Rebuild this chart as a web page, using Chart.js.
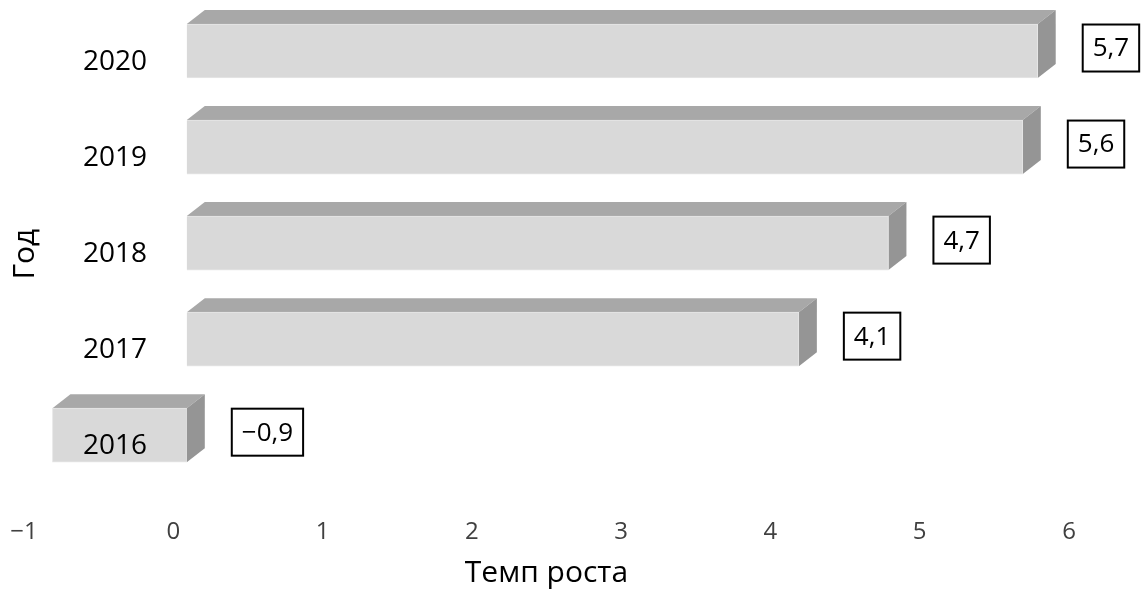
<!DOCTYPE html>
<html>
<head>
<meta charset="utf-8">
<script src="https://cdn.jsdelivr.net/npm/chart.js@4.4.0/dist/chart.umd.min.js"></script>
<style>
    html, body { margin: 0; padding: 0; background: #fff; }
</style>
</head>
<body>
<canvas id="grafico" width="1141" height="599"></canvas>
<script>
// dati
var anni = ['2020', '2019', '2018', '2017', '2016'];
var tempi = [5.7, 5.6, 4.7, 4.1, -0.9];
var minX = -1;
var maxX = 6;
var titoloX = 'Темп роста';
var titoloY = 'Год';

// effetto 3D
var PROF_X = 18;
var PROF_Y = 14;
var SPOSTA_X = 13.5;
var SPOSTA_Y = -11;

function formatta(v)
{
    return String(v).replace('.', ',').replace('-', '\u2212');
}

var barre3d = {
    id: 'barre3d',
    beforeDatasetsDraw: function(chart) {
        var ctx = chart.ctx;
        ctx.save();
        ctx.translate(SPOSTA_X, SPOSTA_Y);

        chart.getDatasetMeta(0).data.forEach(function(barra) {
            var p = barra.getProps(['x', 'y', 'base', 'height'], true);
            var sx = Math.min(p.x, p.base);
            var dx = Math.max(p.x, p.base);
            var su = p.y - p.height / 2;
            var giu = p.y + p.height / 2;

            // faccia sopra
            ctx.fillStyle = '#a8a8a8';
            ctx.beginPath();
            ctx.moveTo(sx, su);
            ctx.lineTo(sx + PROF_X, su - PROF_Y);
            ctx.lineTo(dx + PROF_X, su - PROF_Y);
            ctx.lineTo(dx, su);
            ctx.closePath();
            ctx.fill();

            // faccia laterale
            ctx.fillStyle = '#959595';
            ctx.beginPath();
            ctx.moveTo(dx, su);
            ctx.lineTo(dx + PROF_X, su - PROF_Y);
            ctx.lineTo(dx + PROF_X, giu - PROF_Y);
            ctx.lineTo(dx, giu);
            ctx.closePath();
            ctx.fill();
        });
    },
    afterDatasetsDraw: function(chart) {
        var ctx = chart.ctx;
        ctx.restore();

        var valori = chart.data.datasets[0].data;
        ctx.save();
        ctx.font = '26px "Open Sans"';
        ctx.textAlign = 'center';
        ctx.textBaseline = 'middle';

        chart.getDatasetMeta(0).data.forEach(function(barra, i) {
            var p = barra.getProps(['x', 'y', 'base'], true);
            var testo = formatta(valori[i]);
            var larghezza = ctx.measureText(testo).width + 20;
            var altezza = 47;
            var x0 = Math.max(p.x, p.base) + SPOSTA_X + PROF_X + 27;
            var cy = p.y - 14;

            ctx.fillStyle = '#ffffff';
            ctx.fillRect(x0, cy - altezza / 2, larghezza, altezza);
            ctx.strokeStyle = '#000000';
            ctx.lineWidth = 2;
            ctx.strokeRect(x0, cy - altezza / 2, larghezza, altezza);
            ctx.fillStyle = '#000000';
            ctx.fillText(testo, x0 + larghezza / 2, cy + 1);
        });
        ctx.restore();
    }
};

Chart.defaults.font.family = '"Open Sans", sans-serif';

var ctx = document.getElementById('grafico');

var chart = new Chart(ctx, {
    type: 'bar',
    data: {
        labels: anni,
        datasets: [{
            data: tempi,
            backgroundColor: '#d9d9d9',
            borderColor: '#e6e6e6',
            borderWidth: 1,
            barThickness: 54,
            clip: false
        }]
    },
    options: {
        indexAxis: 'y',
        responsive: false,
        animation: false,
        devicePixelRatio: 1,
        layout: {
            padding: { left: 0, right: 72, top: 14, bottom: 0 }
        },
        plugins: {
            legend: { display: false },
            tooltip: { enabled: false }
        },
        scales: {
            x: {
                min: minX,
                max: maxX,
                afterFit: function(s) {
                    s.paddingLeft = 0;
                    s.paddingRight = 0;
                },
                ticks: {
                    stepSize: 1,
                    color: '#404040',
                    padding: 24,
                    font: { size: 24 },
                    callback: function(v) { return formatta(v); }
                },
                grid: { display: false, drawTicks: false },
                border: { display: false },
                title: {
                    display: true,
                    text: titoloX,
                    color: '#000000',
                    font: { size: 30 },
                    padding: { top: -16, bottom: 8 }
                }
            },
            y: {
                afterFit: function(s) {
                    s.width = 24;
                    s.paddingTop = 0;
                    s.paddingBottom = 0;
                },
                ticks: {
                    z: 1,
                    mirror: true,
                    padding: 59,
                    color: '#000000',
                    font: { size: 28 }
                },
                grid: { display: false, drawTicks: false },
                border: { display: false },
                title: {
                    display: true,
                    text: titoloY,
                    color: '#000000',
                    font: { size: 30 },
                    padding: { top: 7, bottom: 0 }
                }
            }
        }
    },
    plugins: [barre3d]
});
</script>
</body>
</html>
